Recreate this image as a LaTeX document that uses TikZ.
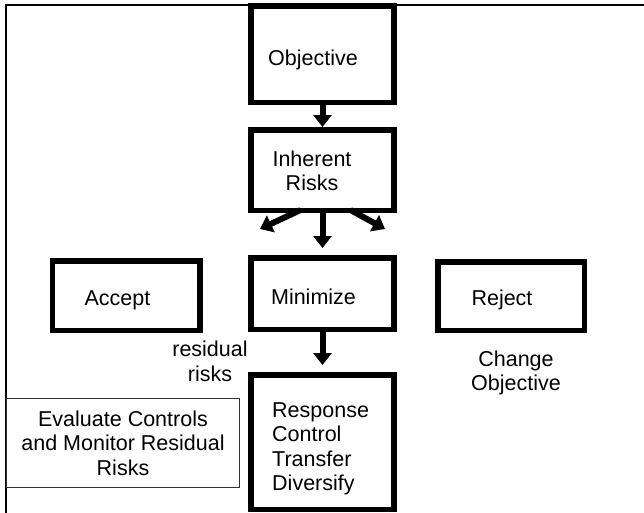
\documentclass[tikz,border=0pt]{standalone}
\usepackage{fontspec}
\setmainfont{Liberation Sans}
\usetikzlibrary{positioning, arrows.meta}

\begin{document}
\begin{tikzpicture}[
  x=1pt, y=-1pt,
  font=\fontsize{21.5}{24.5}\selectfont,
  box/.style={rectangle, draw, line width=5.5pt, minimum width=143pt, inner sep=0pt},
  note/.style={rectangle, draw=black!80, line width=1.2pt, align=center, inner sep=0pt},
  txt/.style={inner sep=0pt, align=center},
  arr/.style={-{Triangle[width=18pt, length=12pt]}, line width=6pt}
]
\useasboundingbox (0,0) rectangle (644,512);
\clip (0,0) rectangle (644,512);
% outer frame, cut off by the page
\draw[line width=2pt] (6,5) rectangle (700,600);

% centre column
\node[box, minimum height=96.5pt] (obj) at (322.5,54) {};
\node[box, minimum height=80.5pt, below=22pt of obj] (inh) {};
\node[box, minimum height=71.5pt, below=42pt of inh] (mini) {};
\node[box, minimum height=134.5pt, below=40pt of mini] (resp) {};

% the two side choices
\node[box, minimum width=147.5pt, minimum height=69.5pt, left=45.5pt of mini, yshift=-2pt] (acc) {};
\node[box, minimum width=146.5pt, minimum height=68.5pt, right=38.5pt of mini, yshift=-2.5pt] (rej) {};

% texts
\node[txt, anchor=base] (objtxt) at (313,65) {Objective};
\node[txt] (inhtxt) at (312,171) {Inherent\\Risks};
\node[txt, anchor=base] (minitxt) at (313.5,304) {Minimize};
\node[txt, align=left, anchor=north west] (resptxt) at (272,402) {Response\\Control\\Transfer\\Diversify};
\node[txt, anchor=base] (acctxt) at (117.5,305) {Accept};
\node[txt, anchor=base] (rejtxt) at (502,305) {Reject};
\node[txt] (resid) at (210,361.5) {residual\\risks};
\node[txt] (chg) at (516,373) {Change\\Objective};
\node[note, minimum width=233pt, minimum height=89pt] (eval) at (123,443) {Evaluate Controls\\and Monitor Residual\\Risks};

% Arrows
\coordinate (lefttip) at (260,229);
\coordinate (midtip) at (322.5,248);
\coordinate (righttip) at (385,229);
\draw[arr] (obj) -- (inh);
\draw[arr] ([xshift=-22pt, yshift=3pt]inh.south) -- (lefttip);
\draw[arr] (inh) -- (midtip);
\draw[arr] ([xshift=28pt, yshift=3pt]inh.south) -- (righttip);
\draw[arr, shorten >=7pt] (mini) -- (resp);
\end{tikzpicture}
\end{document}
